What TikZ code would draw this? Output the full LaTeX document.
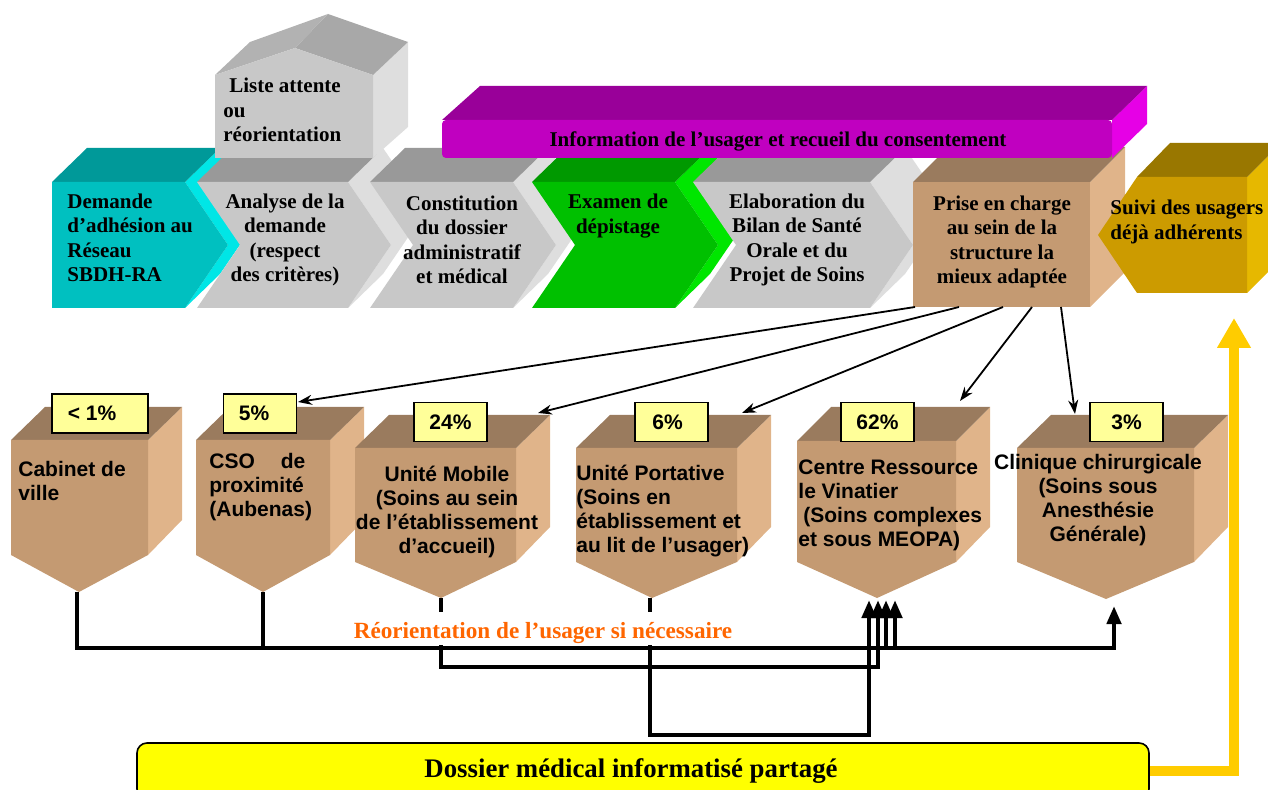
\documentclass[tikz,border=0pt]{standalone}
\usepackage{fontspec}
\setmainfont{Liberation Serif}
\setsansfont{Liberation Sans}
\usepackage{tikz}
\usetikzlibrary{arrows.meta}

\definecolor{tealfront}{RGB}{0,192,192}
\definecolor{tealtop}{RGB}{0,153,153}
\definecolor{tealside}{RGB}{0,230,230}
\definecolor{grayfront}{RGB}{200,200,200}
\definecolor{graytop}{RGB}{153,153,153}
\definecolor{grayside}{RGB}{222,222,222}
\definecolor{greenfront}{RGB}{0,192,0}
\definecolor{greentop}{RGB}{0,153,0}
\definecolor{greenside}{RGB}{0,230,0}
\definecolor{roofleft}{RGB}{178,178,178}
\definecolor{roofright}{RGB}{168,168,168}
\definecolor{purplefront}{RGB}{192,0,192}
\definecolor{purpletop}{RGB}{153,0,153}
\definecolor{purpleside}{RGB}{230,0,230}
\definecolor{tanfront}{RGB}{196,154,114}
\definecolor{tantop}{RGB}{154,123,94}
\definecolor{tanside}{RGB}{224,180,138}
\definecolor{goldfront}{RGB}{204,155,0}
\definecolor{goldtop}{RGB}{153,119,0}
\definecolor{goldside}{RGB}{230,184,0}
\definecolor{labelyellow}{RGB}{255,255,153}
\definecolor{orangetext}{RGB}{255,102,0}
\definecolor{dmpyellow}{RGB}{255,255,0}
\definecolor{arrowgold}{RGB}{255,204,0}

\begin{document}
\begin{tikzpicture}[x=0.5pt,y=-0.5pt,
  steptext/.style={font=\bfseries\fontsize{10.5}{12.2}\selectfont,align=center,inner sep=0pt},
  unittext/.style={font=\sffamily\bfseries\fontsize{10.5}{12}\selectfont,align=center,inner sep=0pt},
  pctbox/.style={draw=black,line width=0.8pt,fill=labelyellow,minimum width=36.5pt,minimum height=19.5pt,inner sep=0pt,font=\sffamily\bfseries\fontsize{10.5}{12}\selectfont},
  toarrow/.style={line width=0.9pt,-{Stealth[length=7pt,width=5pt]}},
  backline/.style={line width=2.2pt},
  backarrow/.style={line width=2.2pt,-{Triangle[length=9pt,width=7pt]}},
  dmpbox/.style={draw=black,line width=0.8pt,fill=dmpyellow,rounded corners=5pt,minimum width=506pt,minimum height=28pt,font=\bfseries\fontsize{13.4}{15}\selectfont},
  dmparrow/.style={arrowgold,line width=5pt,-{Triangle[length=15pt,width=16pt]}}]
\useasboundingbox (0,0) rectangle (1268,790);
\clip (0,0) rectangle (1268,790);

% draw first chevron (demande)
\fill[tealside] (185,182) -- (220,148) -- (263,211) -- (220,274) -- (185,308) -- (228,245) -- cycle;
\fill[tealtop] (52,182) -- (185,182) -- (220,148) -- (87,148) -- cycle;
\fill[tealfront] (52,182) -- (185,182) -- (228,245) -- (185,308) -- (52,308) -- cycle;
% draw second chevron (analyse)
\fill[grayside] (348,182) -- (383,148) -- (426,211) -- (383,274) -- (348,308) -- (391,245) -- cycle;
\fill[graytop] (197,182) -- (348,182) -- (383,148) -- (232,148) -- cycle;
\fill[grayfront] (197,182) -- (348,182) -- (391,245) -- (348,308) -- (197,308) -- (240,245) -- cycle;
% draw third chevron (constitution)
\fill[grayside] (513,182) -- (548,148) -- (591,211) -- (548,274) -- (513,308) -- (556,245) -- cycle;
\fill[graytop] (370,182) -- (513,182) -- (548,148) -- (405,148) -- cycle;
\fill[grayfront] (370,182) -- (513,182) -- (556,245) -- (513,308) -- (370,308) -- (413,245) -- cycle;
% draw fourth chevron (examen)
\fill[greenside] (675,182) -- (710,148) -- (753,211) -- (710,274) -- (675,308) -- (718,245) -- cycle;
\fill[greentop] (532,182) -- (675,182) -- (710,148) -- (567,148) -- cycle;
\fill[greenfront] (532,182) -- (675,182) -- (718,245) -- (675,308) -- (532,308) -- (575,245) -- cycle;
% draw fifth chevron (bilan)
\fill[grayside] (870,182) -- (905,148) -- (948,211) -- (905,274) -- (870,308) -- (913,245) -- cycle;
\fill[graytop] (693,182) -- (870,182) -- (905,148) -- (728,148) -- cycle;
\fill[grayfront] (693,182) -- (870,182) -- (913,245) -- (870,308) -- (693,308) -- (736,245) -- cycle;

% draw house (liste attente)
\fill[grayside] (373,75) -- (408,42) -- (408,127) -- (373,158) -- cycle;
\fill[roofright] (295,48) -- (328,14) -- (408,42) -- (373,75) -- cycle;
\fill[roofleft] (215,75) -- (250,42) -- (328,14) -- (295,48) -- cycle;
\fill[grayfront] (215,75) -- (295,48) -- (373,75) -- (373,158) -- (215,158) -- cycle;

% draw box (prise en charge)
\fill[tanside] (1090,182) -- (1125,147) -- (1125,272) -- (1090,307) -- cycle;
\fill[tantop] (913,182) -- (1090,182) -- (1125,147) -- (948,147) -- cycle;
\fill[tanfront] (913,182) rectangle (1090,307);

% draw hexagon (suivi)
\fill[goldside] (1247,177) -- (1281,143) -- (1281,259) -- (1247,293) -- cycle;
\fill[goldtop] (1137,177) -- (1170,143) -- (1281,143) -- (1247,177) -- cycle;
\fill[goldfront] (1098,235) -- (1137,177) -- (1247,177) -- (1247,293) -- (1137,293) -- cycle;

% draw banner (information)
\fill[purpleside] (1112,120) -- (1147,86) -- (1147,124) -- (1112,158) -- cycle;
\fill[purpletop] (442,120) -- (1112,120) -- (1147,86) -- (480,86) -- cycle;
\fill[purplefront,rounded corners=2pt] (442,120) rectangle (1112,158);

% texts of the top row
\node[steptext,anchor=west,align=left] (demande) at (67,238) {Demande\\d’adhésion au\\Réseau\\SBDH-RA};
\node[steptext] (analyse) at (285,240) {Analyse de la\\demande\\(respect\\des critères)};
\node[steptext] (constitution) at (462,240) {Constitution\\du dossier\\administratif\\et médical};
\node[steptext] (examen) at (618,216) {Examen de\\dépistage};
\node[steptext] (bilan) at (797,240) {Elaboration du\\Bilan de Santé\\Orale et du\\Projet de Soins};
\node[steptext] (prise) at (1002,242) {Prise en charge\\au sein de la\\structure la\\mieux adaptée};
\node[steptext,anchor=west,align=left] (suivi) at (1110,222) {Suivi des usagers\\déjà adhérents};
\node[steptext,anchor=west,align=left] (attente) at (223,110) {\hspace{3pt}Liste attente\\ou\\réorientation};
\node[steptext] (information) at (778,141) {Information de l’usager et recueil du consentement};

% draw box 1 (cabinet)
\fill[tanside] (148,440) -- (182,407) -- (182,520) -- (148,555) -- cycle;
\fill[tantop] (11,440) -- (148,440) -- (182,407) -- (45,407) -- cycle;
\fill[tanfront] (11,440) -- (148,440) -- (148,555) -- (79,592) -- (11,555) -- cycle;
% draw box 2 (cso)
\fill[tanside] (330,440) -- (364,407) -- (364,520) -- (330,555) -- cycle;
\fill[tantop] (196,440) -- (330,440) -- (364,407) -- (230,407) -- cycle;
\fill[tanfront] (196,440) -- (330,440) -- (330,555) -- (263,592) -- (196,555) -- cycle;
% draw box 3 (unite mobile)
\fill[tanside] (516,448) -- (550,415) -- (550,527) -- (516,562) -- cycle;
\fill[tantop] (355,448) -- (516,448) -- (550,415) -- (389,415) -- cycle;
\fill[tanfront] (355,448) -- (516,448) -- (516,562) -- (441,598) -- (355,562) -- cycle;
% draw box 4 (unite portative)
\fill[tanside] (737,448) -- (771,415) -- (771,527) -- (737,562) -- cycle;
\fill[tantop] (576,448) -- (737,448) -- (771,415) -- (610,415) -- cycle;
\fill[tanfront] (576,448) -- (737,448) -- (737,562) -- (652,598) -- (576,562) -- cycle;
% draw box 5 (centre ressource)
\fill[tanside] (956,441) -- (990,407) -- (990,527) -- (956,562) -- cycle;
\fill[tantop] (797,441) -- (956,441) -- (990,407) -- (831,407) -- cycle;
\fill[tanfront] (797,441) -- (956,441) -- (956,562) -- (877,598) -- (797,562) -- cycle;
% draw box 6 (clinique)
\fill[tanside] (1194,448) -- (1228,415) -- (1228,527) -- (1194,562) -- cycle;
\fill[tantop] (1017,448) -- (1194,448) -- (1228,415) -- (1051,415) -- cycle;
\fill[tanfront] (1017,448) -- (1194,448) -- (1194,562) -- (1106,599) -- (1017,562) -- cycle;

% percentages
\node[pctbox,minimum width=48pt] (pct-cab) at (100,413.5) {\hspace*{-8pt}< 1\%};
\node[pctbox] (pct-cso) at (260,413.5) {\hspace*{-6pt}5\%};
\node[pctbox] (pct-mob) at (450.5,422) {24\%};
\node[pctbox] (pct-port) at (671.5,422) {\hspace*{-4pt}6\%};
\node[pctbox] (pct-ctr) at (877.5,422) {62\%};
\node[pctbox] (pct-cli) at (1126.5,422) {3\%};

% texts of the bottom row
\node[unittext,anchor=west,align=left] (cabinet) at (18,481) {Cabinet de\\ville};
\node[unittext,anchor=west,align=left,text width=48pt] (cso) at (209,487) {CSO\hfill de\\proximité\\(Aubenas)};
\node[unittext] (mobile) at (447,512) {Unité Mobile\\(Soins au sein\\de l’établissement\\d’accueil)};
\node[unittext,anchor=west,align=left] (portative) at (576,511) {Unité Portative\\(Soins en\\établissement et\\au lit de l’usager)};
\node[unittext,anchor=west,align=left] (centre) at (798,505) {Centre Ressource\\le Vinatier\\\hspace{2.5pt}(Soins complexes\\et sous MEOPA)};
\node[unittext] (clinique) at (1098,500) {Clinique chirurgicale\\(Soins sous\\Anesthésie\\Générale)};

% arrows from prise en charge
\coordinate (prise-o1) at (915,307);
\coordinate (prise-o2) at (959,307);
\coordinate (prise-o3) at (1003,307);
\coordinate (prise-o4) at (1032,307);
\coordinate (prise-o5) at (1061,307);
\coordinate (cso-in) at (298,402);
\coordinate (mob-in) at (538,413);
\coordinate (port-in) at (742,413);
\coordinate (ctr-in) at (960,401);
\coordinate (cli-in) at (1075,414);
\draw[toarrow] (prise-o1) -- (cso-in);
\draw[toarrow] (prise-o2) -- (mob-in);
\draw[toarrow] (prise-o3) -- (port-in);
\draw[toarrow] (prise-o4) -- (ctr-in);
\draw[toarrow] (prise-o5) -- (cli-in);

% reorientation connectors
\coordinate (cab-tip) at (77,592);
\coordinate (cso-tip) at (263,592);
\coordinate (mob-tip) at (441,598);
\coordinate (port-tip) at (650,598);
\coordinate (cli-tip) at (1114,606);
\coordinate (ctr-in1) at (869,600);
\coordinate (ctr-in2) at (878,600);
\coordinate (ctr-in3) at (886,600);
\coordinate (ctr-in4) at (895,600);
\coordinate (main-j3) at (886,648);
\coordinate (main-j4) at (895,648);
\draw[backarrow] (mob-tip) -- (441,667) -| (ctr-in2);
\draw[backarrow] (port-tip) -- (650,735) -| (ctr-in1);
\fill[white] (331,612) rectangle (788,645);
\node[font=\bfseries\fontsize{11.6}{13}\selectfont,text=orangetext,inner sep=0pt] (reorientation) at (543,633) {Réorientation de l’usager si nécessaire};
\draw[backarrow] (cab-tip) -- (77,648) -| (cli-tip);
\draw[backline] (cso-tip) -- (263,648);
\draw[backarrow] (main-j3) -- (ctr-in3);
\draw[backarrow] (main-j4) -- (ctr-in4);

% dossier medical
\coordinate (suivi-in) at (1234,318);
\draw[dmparrow] (1140,771) -| (suivi-in);
\node[dmpbox] (dmp) at (643,771) {\hspace*{-12pt}Dossier médical informatisé partagé};
\end{tikzpicture}
\end{document}
